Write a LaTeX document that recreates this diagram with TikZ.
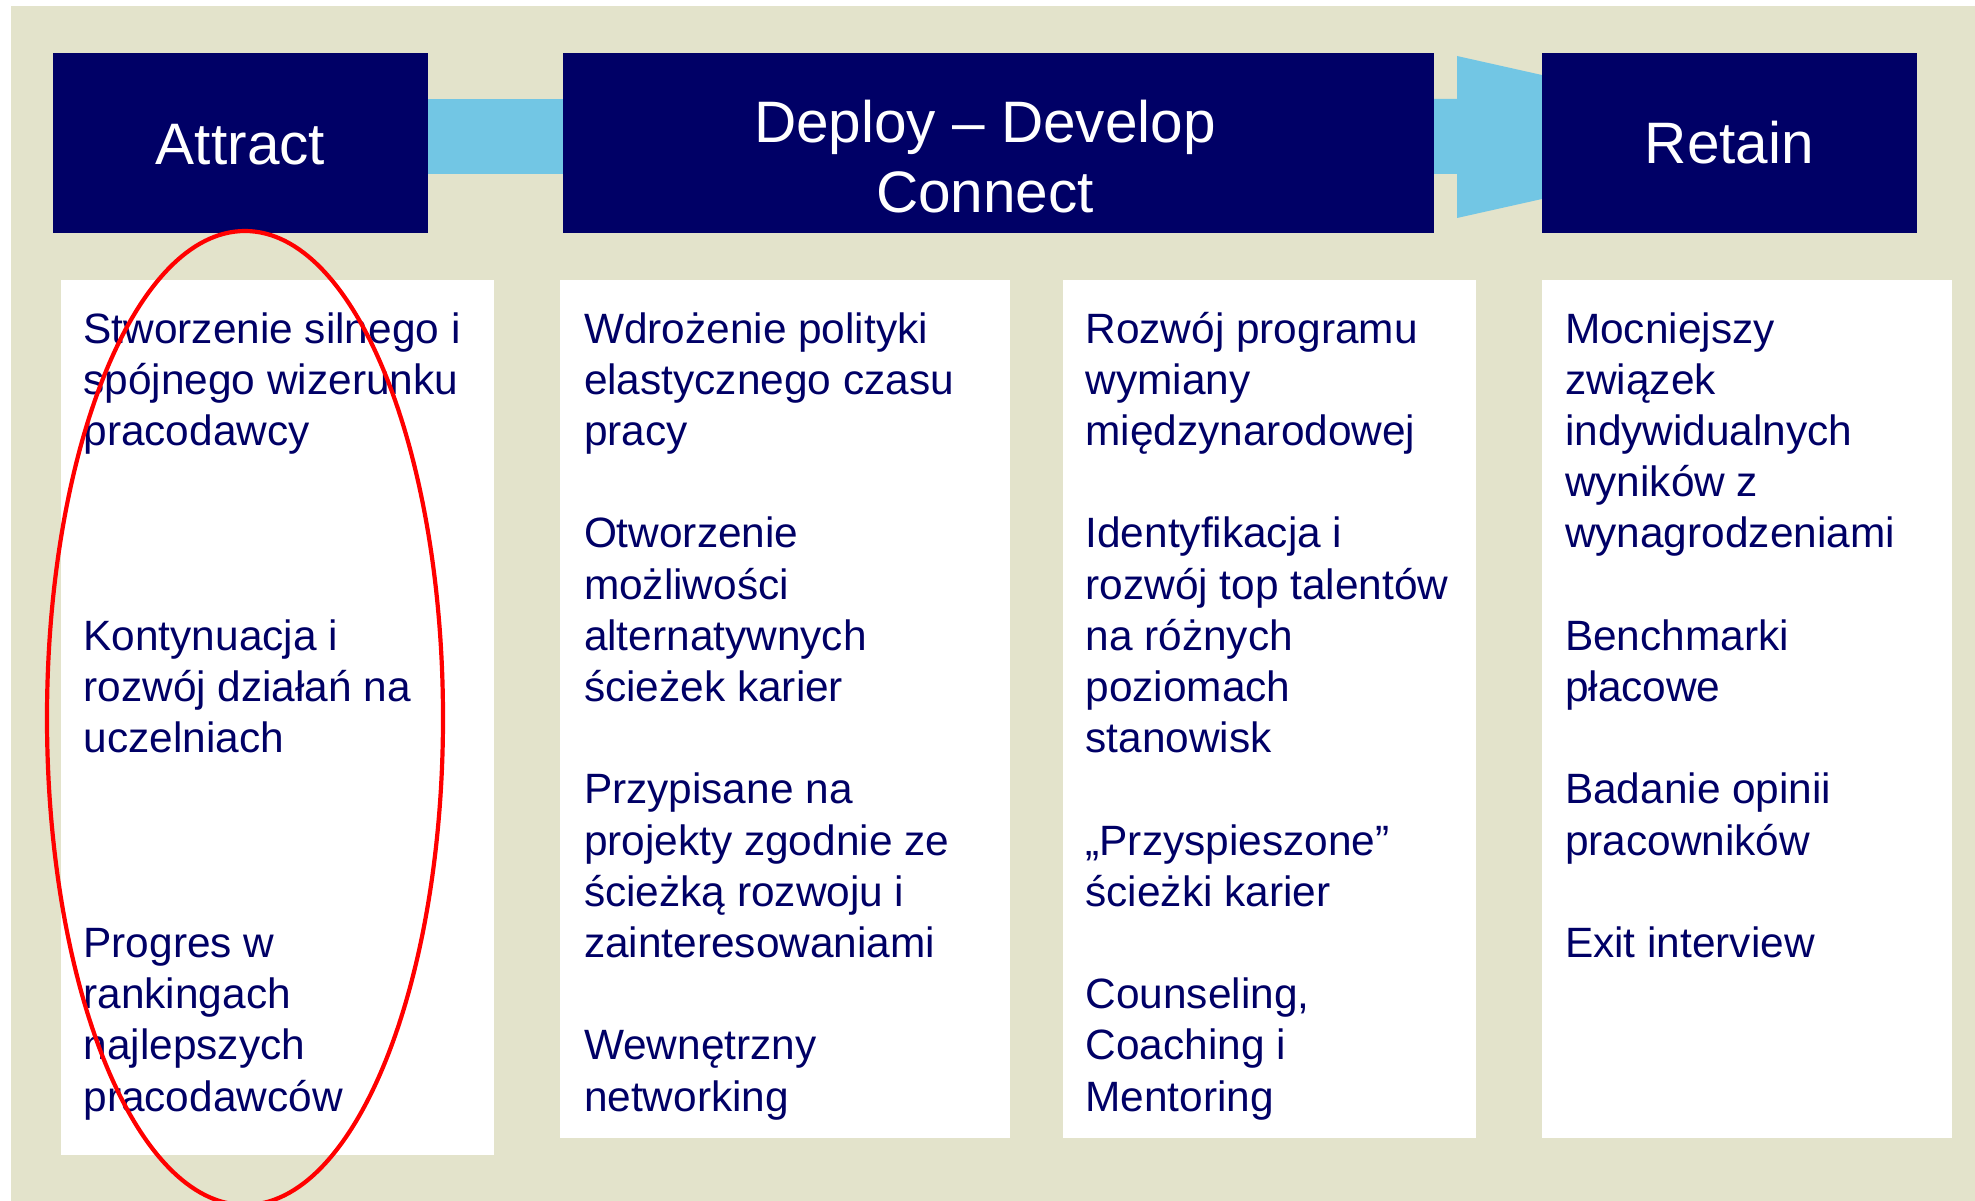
\documentclass[tikz,border=0pt]{standalone}
\usepackage{fontspec}
\setmainfont{Liberation Sans}
\definecolor{navy}{HTML}{000066}
\definecolor{arrowblue}{HTML}{72C6E4}
\definecolor{beige}{HTML}{E3E3CB}
\pgfdeclarelayer{bg}
\pgfsetlayers{bg,main}
\begin{document}
\begin{tikzpicture}[x=1pt,y=-1pt,
  hdrbox/.style={fill=navy, draw=none, inner sep=0pt, outer sep=0pt, minimum height=180pt},
  hdrtxt/.style={text=white, inner sep=0pt, outer sep=0pt, align=center, font=\fontsize{58.5}{70}\selectfont},
  colbox/.style={fill=white, draw=none, inner sep=0pt, outer sep=0pt},
  itemtxt/.style={anchor=north west, inner sep=0pt, outer sep=0pt, align=left, text=navy, font=\fontsize{42.4}{51.2}\selectfont},
  ring/.style={draw=red, line width=4.2pt}
]
\useasboundingbox (0,0) rectangle (1975,1201);

% header boxes
\node[hdrbox, minimum width=375pt] (attract) at (240.5,143) {};
\node[hdrbox, minimum width=871pt] (deploy) at (998.5,143) {};
\node[hdrbox, minimum width=375pt] (retain) at (1729.5,143) {};

\node[hdrtxt, anchor=base] (attracttxt) at (240.5,165) {Attract};
\node[hdrtxt, anchor=north] (deploytxt) at (985,92) {\rule{0pt}{50pt}Deploy – Develop\\Connect};
\node[hdrtxt, anchor=base] (retaintxt) at (1729.5,164) {Retain};

% column boxes
\node[colbox, minimum width=433pt, minimum height=875pt] (col1) at (277.5,717.5) {};
\node[colbox, minimum width=450pt, minimum height=858pt] (col2) at (785,709) {};
\node[colbox, minimum width=413pt, minimum height=858pt] (col3) at (1269.5,709) {};
\node[colbox, minimum width=410pt, minimum height=858pt] (col4) at (1747,709) {};

% background and arrows
\coordinate (barTop) at (0,99);
\coordinate (barBot) at (0,174);
\begin{pgfonlayer}{bg}
  \fill[white] (0,0) rectangle (1975,1201);
  \fill[beige] (11,6) rectangle (1975,1201);
  \fill[arrowblue] (attract.east |- barTop) rectangle (deploy.west |- barBot);
  \fill[arrowblue] (deploy.east |- barTop) -- (1457,99) -- (1457,56) -- (1819,137)
     -- (1457,218) -- (1457,174) -- (deploy.east |- barBot) -- cycle;
\end{pgfonlayer}

% column 1 (baseline of line k = 343 + (k-1)*51.2; node top = baseline - 40)
\node[itemtxt] (a1) at (83.5,303) {\rule{0pt}{40pt}Stworzenie silnego i\\spójnego wizerunku\\pracodawcy};
\node[itemtxt] (a2) at (83.5,610.2) {\rule{0pt}{40pt}Kontynuacja i\\rozwój działań na\\uczelniach};
\node[itemtxt] (a3) at (83.5,917.4) {\rule{0pt}{40pt}Progres w\\rankingach\\najlepszych\\pracodawców};

% column 2
\node[itemtxt] (b1) at (584,303) {\rule{0pt}{40pt}Wdrożenie polityki\\elastycznego czasu\\pracy};
\node[itemtxt] (b2) at (584,507.8) {\rule{0pt}{40pt}Otworzenie\\możliwości\\alternatywnych\\ścieżek karier};
\node[itemtxt] (b3) at (584,763.8) {\rule{0pt}{40pt}Przypisane na\\projekty zgodnie ze\\ścieżką rozwoju i\\zainteresowaniami};
\node[itemtxt] (b4) at (584,1019.8) {\rule{0pt}{40pt}Wewnętrzny\\networking};

% column 3
\node[itemtxt] (c1) at (1085.5,303) {\rule{0pt}{40pt}Rozwój programu\\wymiany\\międzynarodowej};
\node[itemtxt] (c2) at (1085.5,507.8) {\rule{0pt}{40pt}Identyfikacja i\\rozwój top talentów\\na różnych\\poziomach\\stanowisk};
\node[itemtxt] (c3) at (1085.5,815) {\rule{0pt}{40pt}„Przyspieszone”\\ścieżki karier};
\node[itemtxt] (c4) at (1085.5,968.6) {\rule{0pt}{40pt}Counseling,\\Coaching i\\Mentoring};

% column 4
\node[itemtxt] (d1) at (1565,303) {\rule{0pt}{40pt}Mocniejszy\\związek\\indywidualnych\\wyników z\\wynagrodzeniami};
\node[itemtxt] (d2) at (1565,610.2) {\rule{0pt}{40pt}Benchmarki\\płacowe};
\node[itemtxt] (d3) at (1565,763.8) {\rule{0pt}{40pt}Badanie opinii\\pracowników};
\node[itemtxt] (d4) at (1565,917.4) {\rule{0pt}{40pt}Exit interview};

% red ellipse
\draw[ring] (245,718) ellipse [x radius=198pt, y radius=487pt];
\end{tikzpicture}
\end{document}
